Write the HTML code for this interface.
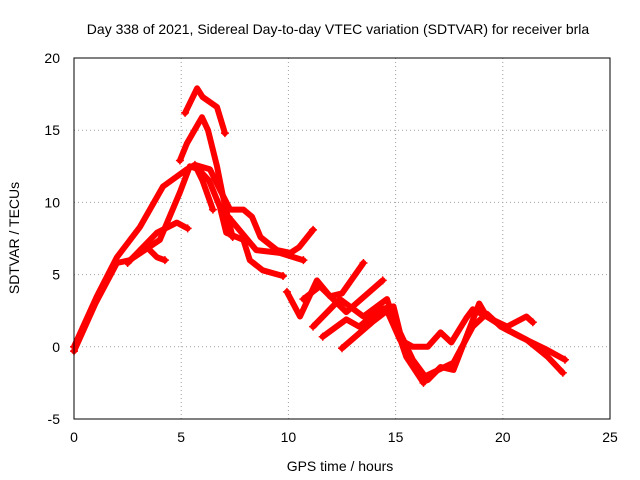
<!DOCTYPE html>
<html><head><meta charset="utf-8"><style>
body{margin:0;background:#fff;}
svg{display:block;font-family:"Liberation Sans",sans-serif;font-size:14px;}
</style></head><body>
<svg id="chart" width="640" height="480" viewBox="0 0 640 480">
<rect x="0" y="0" width="640" height="480" fill="#fff"/>
<text x="338" y="34" text-anchor="middle">Day 338 of 2021, Sidereal Day-to-day VTEC variation (SDTVAR) for receiver brla</text>
<text x="340" y="471" text-anchor="middle">GPS time / hours</text>
<text transform="translate(19,238) rotate(-90)" text-anchor="middle">SDTVAR / TECUs</text>
<g id="grid"></g>
<g id="ticks"></g>
<g id="series"></g>
<rect x="74" y="58" width="536" height="361" fill="none" stroke="#000" stroke-width="1"/>
</svg>
<script>
const xTicks=[0,5,10,15,20,25];
const yTicks=[-5,0,5,10,15,20];
const trackA=[[0,0],[1.07,3.5],[2,6.2],[3.08,8.3],[4.15,11.1],[5.27,12.3],[5.64,12.6],[6.34,12.3],[6.8,10.9],[7.28,9.5],[7.9,9.5],[8.3,9.0],[8.7,7.6],[9.47,6.7],[10.1,6.5],[10.5,6.9],[11.15,8.1]];
const trackB=[[0,-0.3],[1,3.0],[2,5.8],[2.6,6.0],[4,7.4],[4.94,10.7],[5.4,12.5],[5.8,12.3],[6.3,11.5],[6.8,9.7],[7.1,7.9],[7.9,7.4],[8.2,6.0],[8.8,5.3],[9.75,4.9]];
const trackC=[[4.94,12.9],[5.27,14.1],[5.97,15.9],[6.25,15.0],[6.67,12.5],[6.95,10.4],[7.28,8.3],[7.4,7.6]];
const trackD=[[5.18,16.2],[5.74,17.9],[6.0,17.3],[6.67,16.6],[7.04,14.8]];
const trackE=[[3.4,6.9],[3.87,6.2],[4.24,6.0]];
const trackF=[[2.5,5.8],[3.87,7.9],[4.8,8.6],[5.3,8.2]];
const trackP=[[5.64,12.6],[6.0,11.5],[6.48,9.5]];
const trackQ=[[7.2,9.0],[8.5,6.7],[9.6,6.5],[10.7,6.0]];
const trackG=[[9.93,3.8],[10.54,2.1],[11.33,4.6],[11.94,3.5],[12.5,3.7],[13.5,5.8]];
const trackH=[[10.7,3.3],[11.47,4.2],[12.7,2.4],[14.4,4.6]];
const trackI=[[11.15,1.4],[12.4,3.3],[13.5,2.1],[14.6,3.3],[15.06,1.2],[15.5,-0.7],[16.3,-2.5]];
const trackJ=[[11.6,0.7],[12.7,1.9],[13.3,1.4],[14.3,2.6],[14.9,2.8],[15.2,1.0],[15.8,-0.9],[16.5,-2.3],[17.1,-1.4],[17.7,-1.6],[18.3,0.7],[18.9,3.0],[19.25,2.1],[20.2,1.2],[21.1,0.5],[22.1,-0.7],[22.8,-1.8]];
const trackK=[[12.5,-0.1],[13.9,1.7],[14.6,2.5],[15.2,0.5],[15.8,0],[16.5,0],[17.1,1.0],[17.6,0.3],[18.3,2.0],[18.6,2.6],[19.5,1.9],[20.2,1.4],[21.1,2.1],[21.4,1.7]];
const trackL=[[16.3,-2.1],[17.7,-1.1],[18.6,1.4],[19.25,2.3],[19.9,1.4],[20.8,0.7],[22.05,-0.2],[22.9,-0.9]];
const tracks=[trackA,trackB,trackC,trackD,trackE,trackF,trackP,trackQ,trackG,trackH,trackI,trackJ,trackK,trackL];
const NS='http://www.w3.org/2000/svg';
const X0=74,X1=610,Y0=419,Y1=58,xmin=0,xmax=25,ymin=-5,ymax=20;
function xs(v){return X0+(v-xmin)/(xmax-xmin)*(X1-X0);}
function ys(v){return Y0-(v-ymin)/(ymax-ymin)*(Y0-Y1);}
const grid=document.getElementById('grid'),ticks=document.getElementById('ticks'),ser=document.getElementById('series');
xTicks.forEach(t=>{
  const x=xs(t);
  if(t>xmin&&t<xmax){const l=document.createElementNS(NS,'line');
  
  
  l.setAttribute('x1',x);l.setAttribute('x2',x);l.setAttribute('y1',Y1);l.setAttribute('y2',Y0);
  l.setAttribute('stroke','#a0a0a0');l.setAttribute('stroke-dasharray','1,3');grid.appendChild(l);}
  const tx=document.createElementNS(NS,'text');
  
  
  tx.setAttribute('x',x);tx.setAttribute('y',Y0+23);tx.setAttribute('text-anchor','middle');tx.textContent=t;ticks.appendChild(tx);
});
yTicks.forEach(t=>{
  const y=ys(t);
  if(t>ymin&&t<ymax){const l=document.createElementNS(NS,'line');
  
  
  l.setAttribute('x1',X0);l.setAttribute('x2',X1);l.setAttribute('y1',y);l.setAttribute('y2',y);
  l.setAttribute('stroke','#a0a0a0');l.setAttribute('stroke-dasharray','1,3');grid.appendChild(l);}
  const tx=document.createElementNS(NS,'text');
  
  
  tx.setAttribute('x',X0-14);tx.setAttribute('y',y+5);tx.setAttribute('text-anchor','end');tx.textContent=t;ticks.appendChild(tx);
});
tracks.forEach(tr=>{
  const p=document.createElementNS(NS,'path');
  
  
  p.setAttribute('d',tr.map((d,i)=>(i?'L':'M')+xs(d[0]).toFixed(1)+','+ys(d[1]).toFixed(1)).join(''));
  p.setAttribute('fill','none');p.setAttribute('stroke','#ff0000');p.setAttribute('stroke-width','6');p.setAttribute('stroke-linejoin','round');p.setAttribute('stroke-linecap','round');
  ser.appendChild(p);
  [tr[0],tr[tr.length-1]].forEach(d=>{
    const m=document.createElementNS(NS,'path');
    
    
    const x=xs(d[0]),y=ys(d[1]);
    m.setAttribute('d',`M${x-4},${y}h8M${x},${y-4}v8`);
    m.setAttribute('stroke','#ff0000');m.setAttribute('stroke-width','1.5');
    ser.appendChild(m);
  });
});
</script>
</body></html>
